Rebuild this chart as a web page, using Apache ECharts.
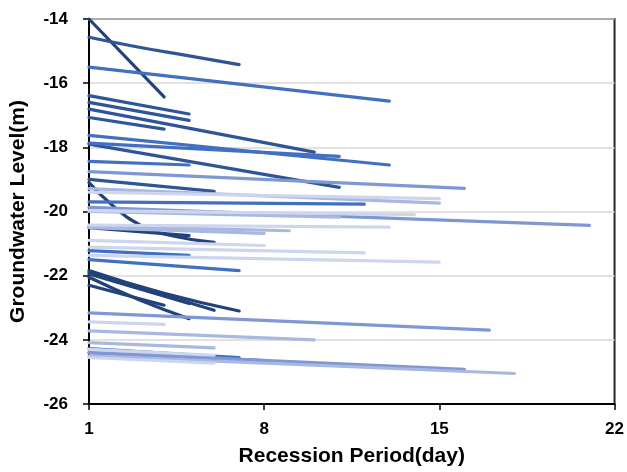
<!DOCTYPE html>
<html>
<head>
<meta charset="utf-8">
<title>Recession</title>
<script src="https://cdn.jsdelivr.net/npm/echarts@6/dist/echarts.min.js"></script>
<style>
  html, body { margin: 0; padding: 0; background: #fff; }
  #main { width: 627px; height: 472px; }
</style>
</head>
<body>
<div id="main"></div>
<script>
// tick labels
var xTicks = [1, 8, 15, 22];

// each recession line: [day, groundwater level]
// darkest lines
var darkest = [
  [[1, -14.0], [4, -16.43]],
  [[1, -19.1], [2, -19.85], [3, -20.4], [4, -20.7], [6, -20.96]],
  [[1, -20.5], [5, -20.75]],
  [[1, -21.84], [4, -22.55], [7, -23.1]],
  [[1, -21.9], [6, -23.08]],
  [[1, -21.95], [5, -22.87]],
  [[1, -22.05], [3, -22.75], [5, -23.34]],
  [[1, -22.3], [4, -22.92]]
];
// dark lines
var dark = [
  [[1, -14.57], [3, -14.88], [5, -15.15], [7, -15.42]],
  [[1, -16.39], [5, -16.96]],
  [[1, -16.6], [5, -17.16]],
  [[1, -16.81], [10, -18.15]],
  [[1, -17.07], [4, -17.43]],
  [[1, -17.9], [11, -19.25]],
  [[1, -19.0], [6, -19.37]]
];
// medium lines
var medium = [
  [[1, -15.5], [7, -16.03], [13, -16.56]],
  [[1, -17.63], [13, -18.55]],
  [[1, -17.87], [11, -18.28]],
  [[1, -18.44], [5, -18.55]],
  [[1, -19.7], [12, -19.77]],
  [[1, -21.22], [5, -21.37]],
  [[1, -21.5], [7, -21.84]],
  [[1, -24.27], [7, -24.55]],
  [[1, -24.4], [8, -24.65]]
];
// light lines
var light = [
  [[1, -18.76], [16, -19.28]],
  [[1, -19.87], [21, -20.43]],
  [[1, -23.16], [17, -23.7]],
  [[1, -24.4], [16, -24.92]]
];
// lighter lines
var lighter = [
  [[1, -19.29], [15, -19.74]],
  [[1, -20.0], [11, -20.18]],
  [[1, -20.45], [9, -20.6]],
  [[1, -20.5], [8, -20.68]],
  [[1, -23.72], [10, -24.0]],
  [[1, -24.09], [6, -24.25]],
  [[1, -24.5], [18, -25.05]]
];
// palest lines
var palest = [
  [[1, -19.4], [15, -19.6]],
  [[1, -19.97], [14, -20.1]],
  [[1, -20.42], [13, -20.49]],
  [[1, -20.9], [8, -21.06]],
  [[1, -21.11], [12, -21.29]],
  [[1, -21.37], [15, -21.58]],
  [[1, -23.44], [4, -23.52]],
  [[1, -24.3], [6, -24.48]],
  [[1, -24.55], [6, -24.73]]
];

var groups = [
  { lines: darkest, color: "#22437a" },
  { lines: dark, color: "#2f5597" },
  { lines: medium, color: "#4270c0" },
  { lines: light, color: "#7f98d4" },
  { lines: lighter, color: "#a8b8e0" },
  { lines: palest, color: "#cdd6ed" }
];

var series = [];
groups.forEach(function (g) {
  g.lines.forEach(function (pts) {
    series.push({
      type: "line",
      data: pts,
      smooth: pts.length > 2,
      showSymbol: false,
      silent: true,
      lineStyle: { color: g.color, width: 3.2, cap: "round" }
    });
  });
});

var font = "Arial, 'Liberation Sans', sans-serif";

var myChart = echarts.init(document.getElementById("main"));
var option = {
  animation: false,
  grid: {
    left: 88,
    right: 11,
    top: 19,
    bottom: 66,
    show: true,
    borderColor: "#262626",
    borderWidth: 2
  },
  xAxis: {
    type: "value",
    min: 1,
    max: 22,
    name: "Recession Period(day)",
    nameLocation: "middle",
    nameGap: 42,
    nameTextStyle: { color: "#000", fontSize: 21, fontWeight: "bold", fontFamily: font },
    axisLine: { lineStyle: { color: "#000", width: 2 } },
    axisTick: { show: true, length: 6, customValues: xTicks, lineStyle: { color: "#000", width: 1.5 } },
    axisLabel: { customValues: xTicks, margin: 17, color: "#000", fontSize: 17, fontWeight: "bold", fontFamily: font },
    splitLine: { show: false }
  },
  yAxis: {
    type: "value",
    min: -26,
    max: -14,
    interval: 2,
    name: "Groundwater Level(m)",
    nameLocation: "middle",
    nameGap: 60,
    nameTextStyle: { color: "#000", fontSize: 21, fontWeight: "bold", fontFamily: font },
    axisLine: { show: true, lineStyle: { color: "#000", width: 2 } },
    axisTick: { show: true, length: 6, lineStyle: { color: "#000", width: 1.5 } },
    axisLabel: { margin: 21, color: "#000", fontSize: 17, fontWeight: "bold", fontFamily: font },
    splitLine: { show: true, lineStyle: { color: "#d9d9d9", width: 1.5 } }
  },
  series: series
};
myChart.setOption(option);
</script>
</body>
</html>
